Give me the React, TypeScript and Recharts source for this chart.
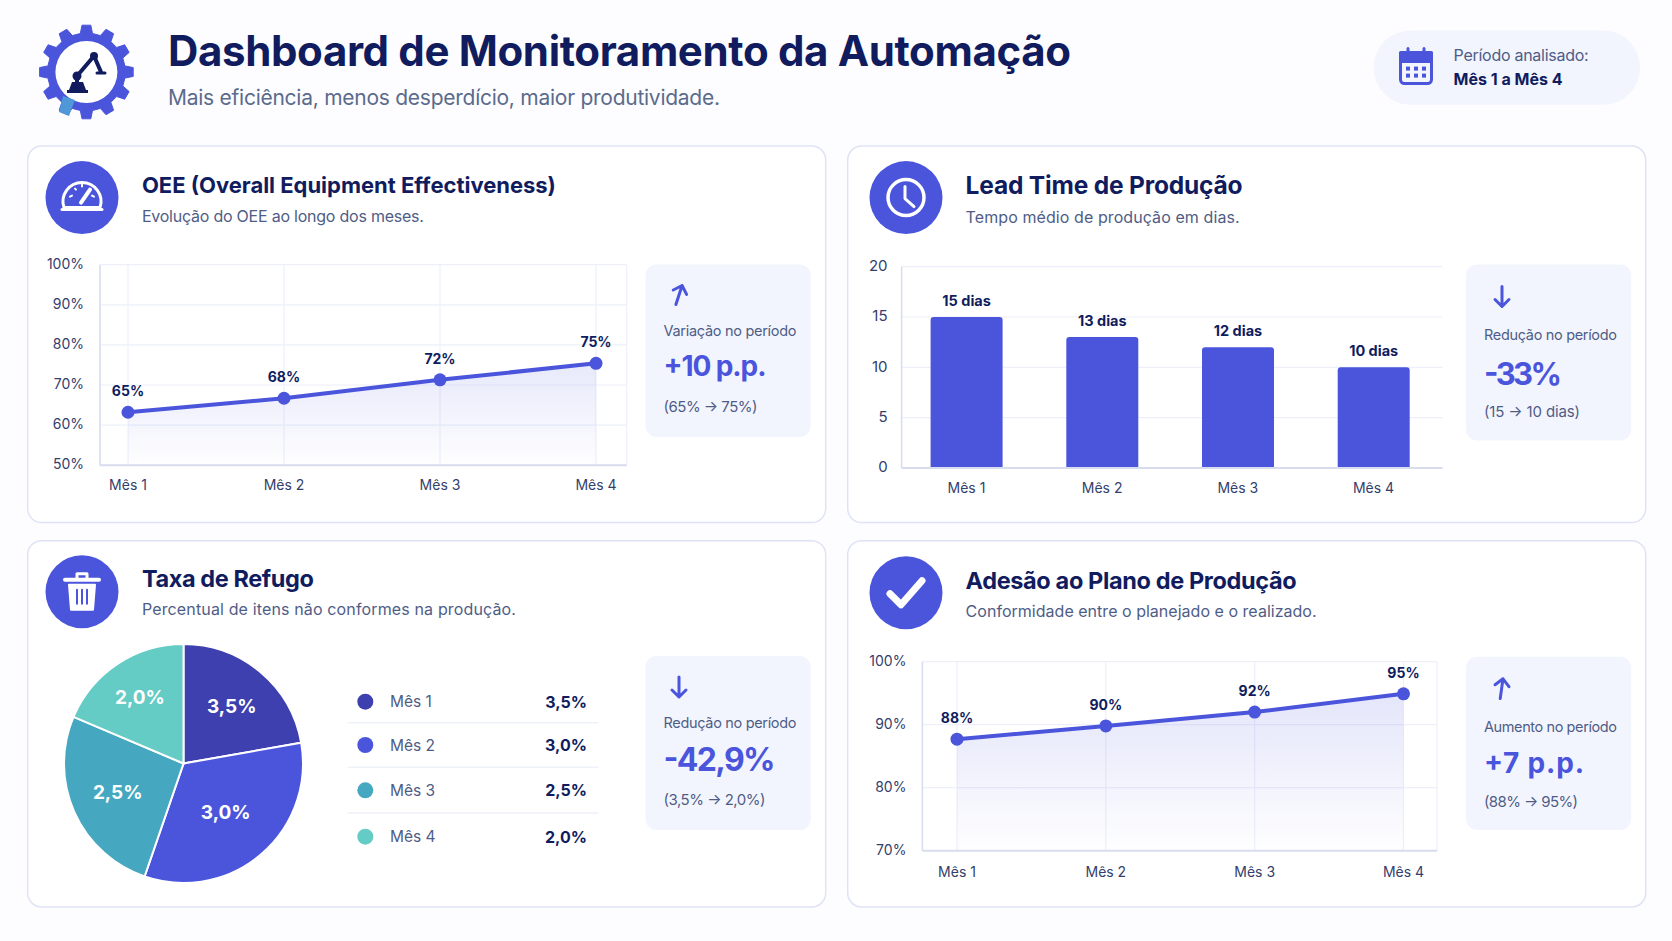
import React from "react";
import {
  Area,
  AreaChart,
  Bar,
  BarChart,
  CartesianGrid,
  Cell,
  LabelList,
  Pie,
  PieChart,
  XAxis,
  YAxis,
} from "recharts";

const months = ["Mês 1", "Mês 2", "Mês 3", "Mês 4"];

const oeeLevels = [63.2, 66.7, 71.3, 75.4];
const oeeLabels = ["65%", "68%", "72%", "75%"];
const oeeTicks = [50, 60, 70, 80, 90, 100];

const leadDays = [15, 13, 12, 10];
const leadTicks = [0, 5, 10, 15, 20];

// slice sizes as drawn in the picture, printed labels apart
const scrapSlices = [80, 119, 94, 67];
const scrapLabels = ["3,5%", "3,0%", "2,5%", "2,0%"];
const scrapColors = ["#3d40ae", "#4a55dc", "#46a8c0", "#64cbc5"];

const planLevels = [87.7, 89.8, 92, 94.9];
const planLabels = ["88%", "90%", "92%", "95%"];
const planTicks = [70, 80, 90, 100];

const FONT = "Inter, sans-serif";
const NAVY = "#101c5e";
const BLUE = "#4a55dc";
const TICK = "#33406b";
const MUTED = "#4f5d86";
const GRID = "#edf0fa";
const AXIS = "#d8ddee";
const SLICE_LABEL_RADIUS = [75, 65, 72, 79];

function Txt({ x, y, w, size, weight = 400, color = MUTED, anchor = "start", children }: any) {
  return (
    <text
      x={x}
      y={y}
      fontSize={size}
      fontWeight={weight}
      fill={color}
      textAnchor={anchor}
      dominantBaseline="central"
      textLength={w}
      lengthAdjust="spacing"
    >
      {children}
    </text>
  );
}

function Card({ x, y, w, h }: any) {
  return <rect x={x} y={y} width={w} height={h} rx={14} fill="#ffffff" stroke="#dfe3f5" strokeWidth={1.5} />;
}

function Head({ cx, cy, tx, title, titleY, titleW, titleSize = 23, sub, subY, subW, children }: any) {
  return (
    <g>
      <circle cx={cx} cy={cy} r={36.5} fill={BLUE} />
      <g transform={`translate(${cx} ${cy})`} fill="none" stroke="#fff" strokeLinecap="round" strokeLinejoin="round">
        {children}
      </g>
      <Txt x={tx} y={titleY} w={titleW} size={titleSize} weight={700} color={NAVY}>{title}</Txt>
      <Txt x={tx} y={subY} w={subW} size={16}>{sub}</Txt>
    </g>
  );
}

function Side({ x, y, w, h, arrow, ax, ay, rot = 0, label, labelY, big, bigY, bigW, bigSize = 28, small, smallY, smallW }: any) {
  const tx = x + 18;
  return (
    <g>
      <rect x={x} y={y} width={w} height={h} rx={11} fill="#f3f5fe" />
      <g
        transform={`translate(${ax} ${ay}) rotate(${arrow === "up" ? rot : 180})`}
        fill="none"
        stroke={BLUE}
        strokeWidth={3}
        strokeLinecap="round"
        strokeLinejoin="round"
      >
        <path d="M0 10 L0 -10 M-7 -3 L0 -10 L7 -3" />
      </g>
      <Txt x={tx} y={labelY} w={133} size={14.5}>{label}</Txt>
      <Txt x={tx} y={bigY} w={bigW} size={bigSize} weight={700} color={BLUE}>{big}</Txt>
      <Txt x={tx} y={smallY} w={smallW} size={15}>{small}</Txt>
    </g>
  );
}

function gearPath(cx: number, cy: number, outer: number, inner: number, teeth: number) {
  const pts: string[] = [];
  const step = (Math.PI * 2) / teeth;
  for (let i = 0; i < teeth; i++) {
    const a = i * step - Math.PI / 2;
    const at = (r: number, da: number) =>
      `${(cx + r * Math.cos(a + da)).toFixed(1)} ${(cy + r * Math.sin(a + da)).toFixed(1)}`;
    pts.push(at(inner, -step * 0.3), at(outer, -step * 0.18), at(outer, step * 0.18), at(inner, step * 0.3));
  }
  return "M" + pts.join(" L") + " Z";
}

function Logo() {
  return (
    <g>
      <path d={gearPath(86.4, 72, 47, 39, 12)} fill={BLUE} stroke={BLUE} strokeWidth={1} strokeLinejoin="round" />
      <circle cx={86.4} cy={72} r={31} fill="#fff" />
      <path d="M63 96 L75 100 L69 116 L59 112 Z" fill="#4f97d6" />
      <g fill="none" stroke={NAVY} strokeLinecap="round" strokeLinejoin="round">
        <path d="M77 88 L77 76 L94 56 L101 72" strokeWidth={4} />
        <path d="M97 73 L105 73" strokeWidth={3} />
      </g>
      <circle cx={77} cy={76} r={4.5} fill={NAVY} />
      <circle cx={94} cy={56} r={4} fill={NAVY} />
      <path d="M72 82 L83 82 L86 90 L88 90 L88 93 L67 93 L67 90 L69 90 Z" fill={NAVY} />
    </g>
  );
}

function Calendar() {
  return (
    <g transform="translate(1416 66.6)" fill="none" stroke={BLUE} strokeWidth={3} strokeLinecap="round" strokeLinejoin="round">
      <rect x={-15.5} y={-14} width={31} height={31} rx={4} />
      <path d="M-15.5 -5 L15.5 -5 M-8 -18 L-8 -10 M8 -18 L8 -10" />
      <path d="M-15.5 -14 L15.5 -14 L15.5 -5 L-15.5 -5 Z" fill={BLUE} />
      <g fill={BLUE} stroke="none">
        {[-8, 0, 8].map((dx) =>
          [2, 9].map((dy) => <rect key={`${dx}${dy}`} x={dx - 2} y={dy - 2} width={4} height={4} />)
        )}
      </g>
    </g>
  );
}

function TrendChart({ id, left, top, width, height, right, marginTop, bottom, axisW, padL, padR, values, labels, ticks, fade, xMargin }: any) {
  const data = months.map((m, i) => ({ m, v: values[i], label: labels[i] }));
  return (
    <div style={{ position: "absolute", left, top }}>
      <AreaChart width={width} height={height} data={data} margin={{ top: marginTop, right, bottom: 0, left: 0 }}>
        <defs>
          <linearGradient id={id} x1="0" y1="0" x2="0" y2="1">
            <stop offset="0%" stopColor={BLUE} stopOpacity={fade} />
            <stop offset="100%" stopColor={BLUE} stopOpacity={0.01} />
          </linearGradient>
        </defs>
        <CartesianGrid stroke={GRID} strokeWidth={1.2} />
        <XAxis
          dataKey="m"
          height={bottom}
          padding={{ left: padL, right: padR }}
          tickSize={0}
          tickMargin={xMargin}
          tick={{ fontSize: 14, fill: TICK }}
          axisLine={{ stroke: AXIS, strokeWidth: 2 }}
          tickLine={false}
        />
        <YAxis
          width={axisW}
          domain={[ticks[0], ticks[ticks.length - 1]]}
          ticks={ticks}
          tickFormatter={(v) => `${v}%`}
          tickSize={0}
          tickMargin={16}
          tick={{ fontSize: 14, fill: TICK, dy: -1 }}
          axisLine={{ stroke: AXIS, strokeWidth: 1.5 }}
          tickLine={false}
        />
        <Area
          type="linear"
          dataKey="v"
          stroke={BLUE}
          strokeWidth={4}
          fill={`url(#${id})`}
          dot={{ r: 6.5, fill: BLUE, stroke: BLUE, strokeWidth: 0, fillOpacity: 1 }}
          isAnimationActive={false}
        >
          <LabelList dataKey="label" position="top" offset={16} fontSize={14} fontWeight={700} fill={NAVY} />
        </Area>
      </AreaChart>
    </div>
  );
}

function LeadChart() {
  const data = months.map((m, i) => ({ m, v: leadDays[i] }));
  return (
    <div style={{ position: "absolute", left: 850, top: 252 }}>
      <BarChart width={605} height={260} data={data} margin={{ top: 14.7, right: 12.6, bottom: 0, left: 0 }}>
        <CartesianGrid stroke={GRID} strokeWidth={1.2} vertical={false} />
        <XAxis
          dataKey="m"
          height={44.1}
          padding={{ left: -3, right: 1 }}
          tickSize={0}
          tickMargin={15}
          tick={{ fontSize: 14, fill: TICK }}
          axisLine={{ stroke: AXIS, strokeWidth: 2 }}
          tickLine={false}
        />
        <YAxis
          width={51.6}
          domain={[0, 20]}
          ticks={leadTicks}
          tickSize={0}
          tickMargin={14}
          tick={{ fontSize: 15, fill: TICK, dy: -1 }}
          axisLine={{ stroke: AXIS, strokeWidth: 1.5 }}
          tickLine={false}
        />
        <Bar dataKey="v" fill={BLUE} barSize={72} radius={[3, 3, 0, 0]} isAnimationActive={false}>
          <LabelList
            dataKey="v"
            position="top"
            offset={11}
            formatter={(v: any) => `${v} dias`}
            fontSize={14.5}
            fontWeight={700}
            fill={NAVY}
          />
        </Bar>
      </BarChart>
    </div>
  );
}

function sliceLabel({ cx, cy, midAngle, index }: any) {
  const rad = (-midAngle * Math.PI) / 180;
  const r = SLICE_LABEL_RADIUS[index];
  return (
    <text
      x={cx + r * Math.cos(rad)}
      y={cy + r * Math.sin(rad)}
      fill="#fff"
      fontSize={19}
      fontWeight={700}
      textAnchor="middle"
      dominantBaseline="central"
    >
      {scrapLabels[index]}
    </text>
  );
}

function ScrapPie() {
  const data = months.map((m, i) => ({ m, v: scrapSlices[i] }));
  return (
    <div style={{ position: "absolute", left: 40, top: 630 }}>
      <PieChart width={300} height={270} margin={{ top: 0, right: 0, bottom: 0, left: 0 }}>
        <Pie
          data={data}
          dataKey="v"
          nameKey="m"
          cx={143.5}
          cy={133.5}
          outerRadius={119.5}
          startAngle={90}
          endAngle={-270}
          stroke="#fff"
          strokeWidth={2}
          label={sliceLabel}
          labelLine={false}
          isAnimationActive={false}
        >
          {data.map((d, i) => (
            <Cell key={d.m} fill={scrapColors[i]} />
          ))}
        </Pie>
      </PieChart>
    </div>
  );
}

function ScrapTable() {
  const rows = [701.7, 745, 790.3, 836.7];
  return (
    <g>
      {[722.7, 767.3, 813].map((y) => (
        <line key={y} x1={347.7} x2={598.4} y1={y} y2={y} stroke="#eff1fa" strokeWidth={1.5} />
      ))}
      {months.map((m, i) => (
        <g key={m}>
          <circle cx={365.3} cy={rows[i]} r={8} fill={scrapColors[i]} />
          <Txt x={390} y={rows[i]} size={15.5}>{m}</Txt>
          <Txt x={587} y={rows[i]} size={16} weight={700} color={NAVY} anchor="end">{scrapLabels[i]}</Txt>
        </g>
      ))}
    </g>
  );
}

export default function App() {
  return (
    <div style={{ position: "absolute", left: 0, top: 0, width: 1672, height: 941, overflow: "hidden", background: "#fdfdff", fontFamily: FONT }}>
      <svg width={1672} height={941} style={{ position: "absolute", left: 0, top: 0 }}>
        <Logo />
        <Txt x={168} y={50} w={903} size={42} weight={700} color={NAVY}>Dashboard de Monitoramento da Automação</Txt>
        <Txt x={168} y={97.5} w={552} size={21} color="#5b6b8c">Mais eficiência, menos desperdício, maior produtividade.</Txt>

        <rect x={1373.6} y={30.4} width={266.4} height={74.4} rx={37} fill="#f2f4fe" />
        <Calendar />
        <Txt x={1453.6} y={55} w={135} size={16}>Período analisado:</Txt>
        <Txt x={1453.6} y={79.4} w={109} size={16} weight={700} color={NAVY}>Mês 1 a Mês 4</Txt>

        <Card x={27.7} y={146} w={798} h={376.6} />
        <Card x={847.7} y={146} w={798} h={376.6} />
        <Card x={27.7} y={540.7} w={798} h={366.3} />
        <Card x={847.7} y={540.7} w={798} h={366.3} />

        <Head cx={82} cy={197.6} tx={141.9} title="OEE (Overall Equipment Effectiveness)" titleY={185} titleW={414} titleSize={22} sub="Evolução do OEE ao longo dos meses." subY={216.4} subW={282}>
          <path d="M-18 10 A19 19 0 1 1 18 10 Z" strokeWidth={3} />
          <path d="M-20 12 L20 12" strokeWidth={3} />
          <path d="M-1 5 L8 -8" strokeWidth={4} />
          <path d="M-12 -1 L-10 -2 M-7 -9 L-6 -8 M0 -13 L0 -11 M12 -1 L10 -2" strokeWidth={2} />
        </Head>
        <Head cx={906} cy={197.6} tx={965.6} title="Lead Time de Produção" titleY={184.6} titleW={277} titleSize={24.5} sub="Tempo médio de produção em dias." subY={216.7} subW={274}>
          <circle r={18} strokeWidth={3.5} />
          <path d="M-1 -11 L-1 1 L8 9" strokeWidth={3} />
        </Head>
        <Head cx={82} cy={591.7} tx={141.9} title="Taxa de Refugo" titleY={578.3} titleW={172} titleSize={23.5} sub="Percentual de itens não conformes na produção." subY={609.3} subW={374}>
          <path d="M-17 -12 L17 -12" strokeWidth={4} />
          <path d="M-5 -14 L-5 -18 L5 -18 L5 -14" strokeWidth={3} />
          <path d="M-13 -7 L13 -7 L11 18 L-11 18 Z" fill="#fff" strokeWidth={2} />
          <path d="M-5 -2 L-5 12 M0 -2 L0 12 M5 -2 L5 12" stroke={BLUE} strokeWidth={2} />
        </Head>
        <Head cx={906} cy={592.7} tx={965.6} title="Adesão ao Plano de Produção" titleY={580} titleW={331} titleSize={23.5} sub="Conformidade entre o planejado e o realizado." subY={611} subW={351}>
          <path d="M-16 1 L-5 12 L16 -12" strokeWidth={7} />
        </Head>

        <Side x={645.5} y={264.4} w={165.2} h={172.6} arrow="up" ax={679} ay={295} rot={18} label="Variação no período" labelY={330} big="+10 p.p." bigY={366} bigW={103} small="(65% → 75%)" smallY={406.7} smallW={94} />
        <Side x={1466} y={264.4} w={165.2} h={176} arrow="down" ax={1502} ay={296.5} label="Redução no período" labelY={334.7} big="-33%" bigY={373} bigW={78} bigSize={31} small="(15 → 10 dias)" smallY={411.8} smallW={96} />
        <Side x={645.5} y={656} w={165.2} h={174} arrow="down" ax={679} ay={687} label="Redução no período" labelY={722.7} big="-42,9%" bigY={759} bigW={112} bigSize={32} small="(3,5% → 2,0%)" smallY={799.3} smallW={102} />
        <Side x={1466} y={656.7} w={165.2} h={173.3} arrow="up" ax={1501.6} ay={688.7} rot={8} label="Aumento no período" labelY={726.7} big="+7 p.p." bigY={763} bigW={100} small="(88% → 95%)" smallY={801.7} smallW={94} />

        <ScrapTable />
      </svg>

      <TrendChart id="oeeFill" left={28} top={250} width={610} height={260} right={11.3} marginTop={14.7} bottom={44.8} axisW={72} padL={28} padR={30.7} values={oeeLevels} labels={oeeLabels} ticks={oeeTicks} fade={0.22} xMargin={15} />
      <LeadChart />
      <ScrapPie />
      <TrendChart id="planFill" left={850} top={647} width={600} height={250} right={13} marginTop={14.7} bottom={46.3} axisW={72.4} padL={34.6} padR={33.5} values={planLevels} labels={planLabels} ticks={planTicks} fade={0.25} xMargin={16} />
    </div>
  );
}
